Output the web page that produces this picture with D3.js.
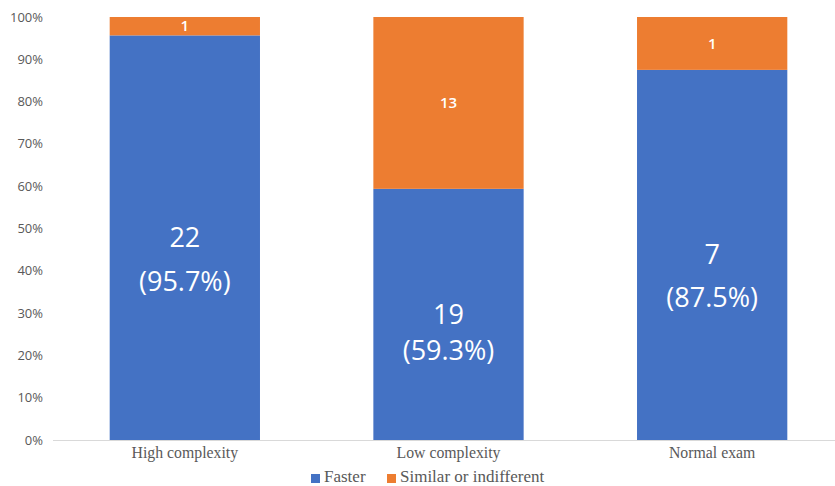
<!DOCTYPE html>
<html>
<head>
<meta charset="utf-8">
<script src="https://cdn.jsdelivr.net/npm/d3@7"></script>
<style>
  html, body { margin: 0; padding: 0; background: #fff; }
  svg { display: block; }
</style>
</head>
<body>
<svg id="chart" width="835" height="486"></svg>
<script>
// chart data
const categories = ['High complexity', 'Low complexity', 'Normal exam'];
const faster = [22, 19, 7];
const similar = [1, 13, 1];
// percent labels as printed on the chart
const fasterPct = ['95.7%', '59.3%', '87.5%'];
const seriesNames = ['Faster', 'Similar or indifferent'];
const yTicks = [0, 0.1, 0.2, 0.3, 0.4, 0.5, 0.6, 0.7, 0.8, 0.9, 1];

const colors = { faster: '#4472C4', similar: '#ED7D31' };
// vertical gap between the count and percent lines inside blue bars
const lineGap = [44, 36, 43];

const svg = d3.select('#chart');

const x = d3.scaleBand()
  .domain(categories)
  .range([53, 844])
  .paddingInner(0.43)
  .paddingOuter(0.215);

const y = d3.scaleLinear().domain([0, 1]).range([440, 17]);

// y axis labels (no line)
svg.append('g').selectAll('text')
  .data(yTicks)
  .join('text')
  .attr('x', 43)
  .attr('y', d => y(d))
  .attr('dy', '0.35em')
  .attr('text-anchor', 'end')
  .attr('font-family', 'Open Sans, sans-serif')
  .attr('font-size', 13)
  .attr('fill', '#595959')
  .text(d => d3.format('.0%')(d));

// stacked shares
const rows = categories.map((c, i) => {
  const total = faster[i] + similar[i];
  return { cat: c, i: i, f: faster[i], s: similar[i], fp: faster[i] / total };
});

const bars = svg.append('g').selectAll('g')
  .data(rows)
  .join('g');

bars.append('rect')
  .attr('x', d => x(d.cat))
  .attr('width', x.bandwidth())
  .attr('y', d => y(d.fp))
  .attr('height', d => y(0) - y(d.fp))
  .attr('fill', colors.faster);

bars.append('rect')
  .attr('x', d => x(d.cat))
  .attr('width', x.bandwidth())
  .attr('y', y(1))
  .attr('height', d => y(d.fp) - y(1))
  .attr('fill', colors.similar);

// axis baseline
svg.append('line')
  .attr('x1', 53).attr('x2', 835)
  .attr('y1', y(0) + 0.5).attr('y2', y(0) + 0.5)
  .attr('stroke', '#d9d9d9')
  .attr('stroke-width', 1);

// labels inside the blue segment
bars.append('text')
  .attr('x', d => x(d.cat) + x.bandwidth() / 2)
  .attr('y', d => (y(d.fp) + y(0)) / 2)
  .attr('dy', '0.35em')
  .attr('text-anchor', 'middle')
  .attr('font-family', 'Open Sans, sans-serif')
  .attr('font-size', 27)
  .attr('fill', '#fff')
  .text(d => d.f);

bars.append('text')
  .attr('x', d => x(d.cat) + x.bandwidth() / 2)
  .attr('y', d => (y(d.fp) + y(0)) / 2 + lineGap[d.i])
  .attr('dy', '0.35em')
  .attr('text-anchor', 'middle')
  .attr('font-family', 'Open Sans, sans-serif')
  .attr('font-size', 27)
  .attr('fill', '#fff')
  .text(d => '(' + fasterPct[d.i] + ')');

// labels inside the orange segment
bars.append('text')
  .attr('x', d => x(d.cat) + x.bandwidth() / 2)
  .attr('y', d => (y(1) + y(d.fp)) / 2)
  .attr('dy', '0.35em')
  .attr('text-anchor', 'middle')
  .attr('font-family', 'Open Sans, sans-serif')
  .attr('font-size', 15)
  .attr('font-weight', 600)
  .attr('fill', '#fff')
  .text(d => d.s);

// category labels
svg.append('g').selectAll('text')
  .data(categories)
  .join('text')
  .attr('x', d => x(d) + x.bandwidth() / 2)
  .attr('y', 458)
  .attr('text-anchor', 'middle')
  .attr('font-family', 'Liberation Serif, Times New Roman, serif')
  .attr('font-size', 15.8)
  .attr('fill', '#595959')
  .text(d => d);

// legend
const legend = svg.append('g');
const legendX = [311, 387];
const legendColors = [colors.faster, colors.similar];
seriesNames.forEach((name, i) => {
  legend.append('rect')
    .attr('x', legendX[i]).attr('y', 474)
    .attr('width', 9).attr('height', 9)
    .attr('fill', legendColors[i]);
  legend.append('text')
    .attr('x', legendX[i] + 13).attr('y', 482)
    .attr('font-family', 'Liberation Serif, Times New Roman, serif')
    .attr('font-size', 17)
    .attr('fill', '#595959')
    .text(name);
});
</script>
</body>
</html>
